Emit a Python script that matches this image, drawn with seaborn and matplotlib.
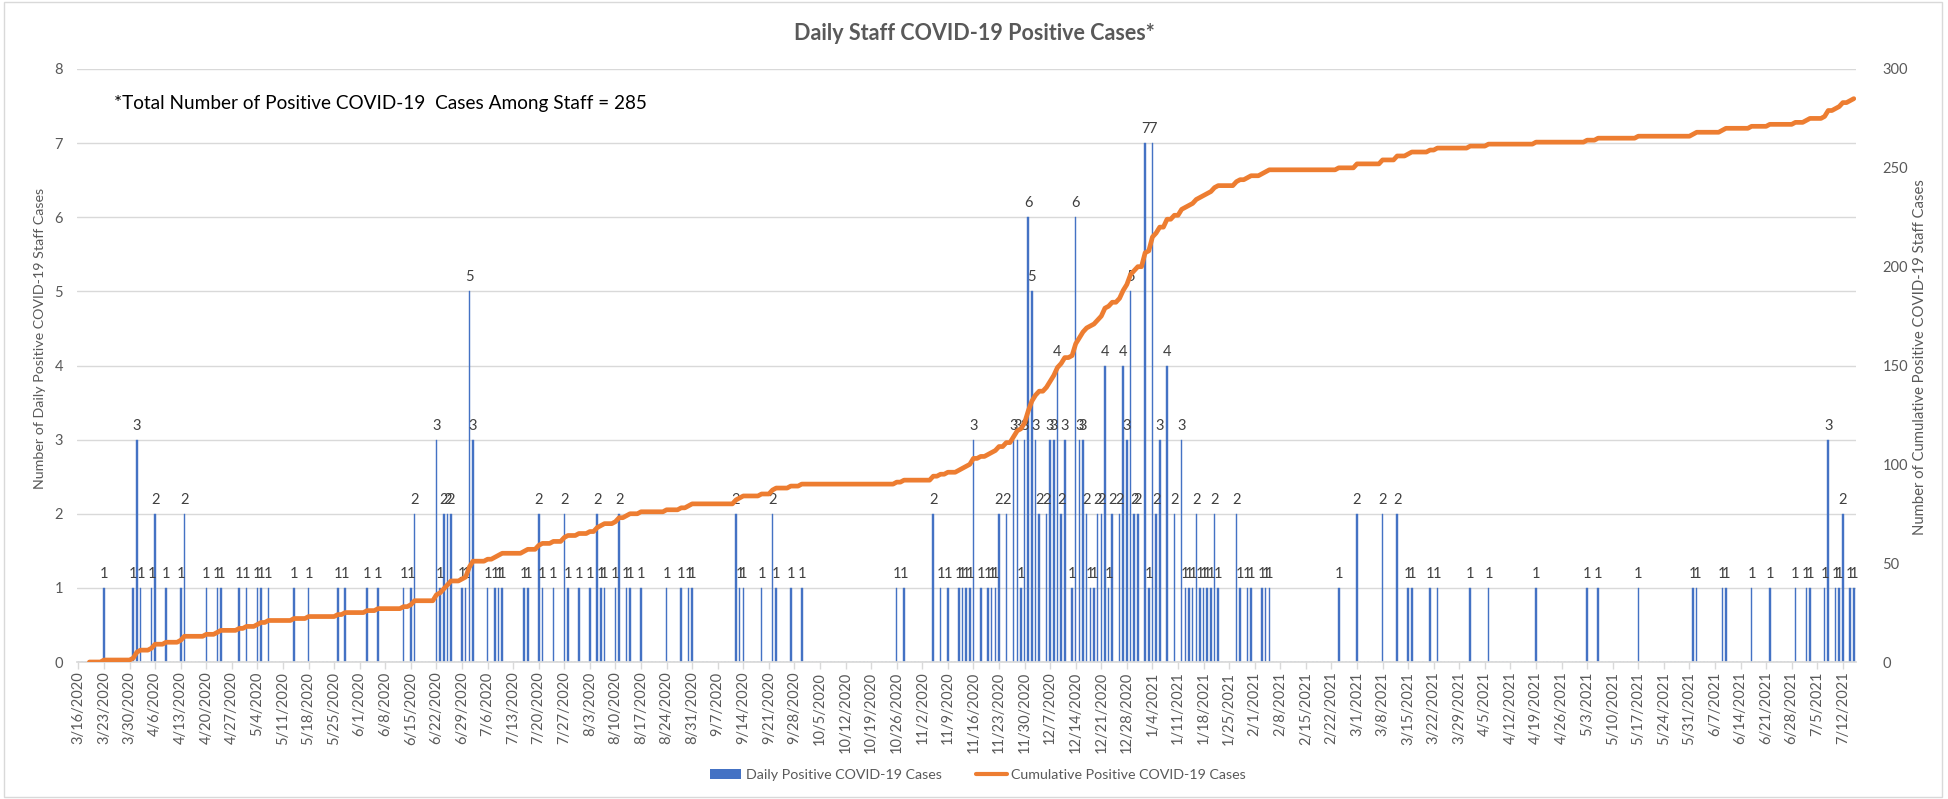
import numpy as np
import pandas as pd
import matplotlib
matplotlib.use('Agg')
import matplotlib.pyplot as plt
from matplotlib.patches import Patch, Rectangle
from matplotlib.lines import Line2D
import seaborn as sns

# days with at least one positive staff case
case_dates = [
    '3/23/2020', '3/31/2020', '4/1/2020', '4/2/2020', '4/5/2020', '4/6/2020', '4/9/2020',
    '4/13/2020', '4/14/2020', '4/20/2020', '4/23/2020', '4/24/2020', '4/29/2020', '5/1/2020',
    '5/4/2020', '5/5/2020', '5/7/2020', '5/14/2020', '5/18/2020', '5/26/2020', '5/28/2020',
    '6/3/2020', '6/6/2020', '6/13/2020', '6/15/2020', '6/16/2020', '6/22/2020', '6/23/2020',
    '6/24/2020', '6/25/2020', '6/26/2020', '6/29/2020', '6/30/2020', '7/1/2020', '7/2/2020',
    '7/6/2020', '7/8/2020', '7/9/2020', '7/10/2020', '7/16/2020', '7/17/2020', '7/20/2020',
    '7/21/2020', '7/24/2020', '7/27/2020', '7/28/2020', '7/31/2020', '8/3/2020', '8/5/2020',
    '8/6/2020', '8/7/2020', '8/10/2020', '8/11/2020', '8/13/2020', '8/14/2020', '8/17/2020',
    '8/24/2020', '8/28/2020', '8/30/2020', '8/31/2020', '9/12/2020', '9/13/2020', '9/14/2020',
    '9/19/2020', '9/22/2020', '9/23/2020', '9/27/2020', '9/30/2020', '10/26/2020', '10/28/2020',
    '11/5/2020', '11/7/2020', '11/9/2020', '11/12/2020', '11/13/2020', '11/14/2020', '11/15/2020',
    '11/16/2020', '11/18/2020', '11/20/2020', '11/21/2020', '11/22/2020', '11/23/2020',
    '11/25/2020', '11/27/2020', '11/28/2020', '11/29/2020', '11/30/2020', '12/1/2020',
    '12/2/2020', '12/3/2020', '12/4/2020', '12/6/2020', '12/7/2020', '12/8/2020', '12/9/2020',
    '12/10/2020', '12/11/2020', '12/13/2020', '12/14/2020', '12/15/2020', '12/16/2020',
    '12/17/2020', '12/18/2020', '12/19/2020', '12/20/2020', '12/21/2020', '12/22/2020',
    '12/23/2020', '12/24/2020', '12/26/2020', '12/27/2020', '12/28/2020', '12/29/2020',
    '12/30/2020', '12/31/2020', '1/2/2021', '1/3/2021', '1/4/2021', '1/5/2021', '1/6/2021',
    '1/8/2021', '1/10/2021', '1/12/2021', '1/13/2021', '1/14/2021', '1/15/2021', '1/16/2021',
    '1/17/2021', '1/18/2021', '1/19/2021', '1/20/2021', '1/21/2021', '1/22/2021', '1/27/2021',
    '1/28/2021', '1/30/2021', '1/31/2021', '2/3/2021', '2/4/2021', '2/5/2021', '2/24/2021',
    '3/1/2021', '3/8/2021', '3/12/2021', '3/15/2021', '3/16/2021', '3/21/2021', '3/23/2021',
    '4/1/2021', '4/6/2021', '4/19/2021', '5/3/2021', '5/6/2021', '5/17/2021', '6/1/2021',
    '6/2/2021', '6/9/2021', '6/10/2021', '6/17/2021', '6/22/2021', '6/29/2021', '7/2/2021',
    '7/3/2021', '7/7/2021', '7/8/2021', '7/10/2021', '7/11/2021', '7/12/2021', '7/14/2021',
    '7/15/2021',
]
case_counts = [
    1, 1, 3, 1, 1, 2, 1,
    1, 2, 1, 1, 1, 1, 1,
    1, 1, 1, 1, 1, 1, 1,
    1, 1, 1, 1, 2, 3, 1,
    2, 2, 2, 1, 1, 5, 3,
    1, 1, 1, 1, 1, 1, 2,
    1, 1, 2, 1, 1, 1, 2,
    1, 1, 1, 2, 1, 1, 1,
    1, 1, 1, 1, 2, 1, 1,
    1, 2, 1, 1, 1, 1, 1,
    2, 1, 1, 1, 1, 1, 1,
    3, 1, 1, 1, 1, 2,
    2, 3, 3, 1, 3, 6,
    5, 3, 2, 2, 3, 3, 4,
    2, 3, 1, 6, 3, 3,
    2, 1, 1, 2, 2, 4,
    1, 2, 2, 4, 3, 5,
    2, 2, 7, 1, 7, 2, 3,
    4, 2, 3, 1, 1, 1, 2,
    1, 1, 1, 1, 2, 1, 2,
    1, 1, 1, 1, 1, 1, 1,
    2, 2, 2, 1, 1, 1, 1,
    1, 1, 1, 1, 1, 1, 1,
    1, 1, 1, 1, 1, 1, 1,
    1, 1, 3, 1, 1, 2, 1,
    1,
]
first_day = '3/16/2020'
last_day = '7/15/2021'
line_start = '3/19/2020'

days = pd.date_range(pd.to_datetime(first_day), pd.to_datetime(last_day), freq='D')
daily = pd.Series(0, index=days)
daily[pd.to_datetime(case_dates, format='%m/%d/%Y')] = case_counts
df = pd.DataFrame({'day': np.arange(len(days)), 'cases': daily.values})
df['cumulative'] = df['cases'].cumsum()
start_idx = (pd.to_datetime(line_start) - days[0]).days
line_df = df[df['day'] >= start_idx]

sns.set_theme(style='white')
plt.rcParams['font.family'] = ['Lato', 'DejaVu Sans']

fig = plt.figure(figsize=(19.48, 7.99), dpi=100)
ax = fig.add_axes([77 / 1948, 137 / 799, 1779 / 1948, 593 / 799])

sns.barplot(data=df, x='day', y='cases', native_scale=True, color='#4472C4',
            saturation=1, width=0.42, edgecolor='#4472C4', linewidth=0.3, ax=ax)
ax.bar_label(ax.containers[0], labels=[str(v) if v else '' for v in df['cases']],
             padding=5, fontsize=10.5, color='#404040')

ax.set_ylim(0, 8)
ax.set_yticks(range(0, 9))
ax.set_xlim(-0.4, len(days) - 0.4)
tick_pos = np.arange(0, len(days), 7)
ax.set_xticks(tick_pos)
ax.set_xticklabels([f'{d.month}/{d.day}/{d.year}' for d in days[tick_pos]], rotation=90)
ax.yaxis.grid(True, color='#D9D9D9', linewidth=1)
ax.set_axisbelow(True)
for s in ['top', 'right', 'left']:
    ax.spines[s].set_visible(False)
ax.spines['bottom'].set_color('#D9D9D9')
ax.tick_params(axis='x', colors='#D9D9D9', labelcolor='#595959', labelsize=10.5,
               length=5, width=1, pad=2, direction='out', bottom=True)
ax.tick_params(axis='y', labelcolor='#595959', labelsize=10.5, length=0, pad=10)
ax.set_xlabel('')
ax.set_ylabel('')

ax2 = ax.twinx()
sns.lineplot(data=line_df, x='day', y='cumulative', color='#ED7D31', linewidth=3.4, ax=ax2)
ax2.set_ylim(0, 300)
ax2.set_yticks(range(0, 301, 50))
ax2.grid(False)
for s in ax2.spines.values():
    s.set_visible(False)
ax2.tick_params(axis='y', labelcolor='#595959', labelsize=10.5, length=0, pad=19)
ax2.set_ylabel('')
ax2.set_xlabel('')

fig.text(974 / 1948, 1 - 34 / 799, 'Daily Staff COVID-19 Positive Cases*', ha='center',
         va='center', fontsize=15.5, fontweight='bold', color='#595959')
fig.text(114 / 1948, 1 - 103 / 799, '*Total Number of Positive COVID-19  Cases Among Staff = 285',
         ha='left', va='center', fontsize=13.7, color='black')
fig.text(40 / 1948, 1 - 338 / 799, 'Number of Daily Positive COVID-19 Staff Cases',
         rotation=90, ha='center', va='center', fontsize=10.3, color='#595959')
fig.text(1920 / 1948, 1 - 357 / 799, 'Number of Cumulative Positive COVID-19 Staff Cases',
         rotation=90, ha='center', va='center', fontsize=10.7, color='#595959')

handles = [Patch(facecolor='#4472C4', edgecolor='none'),
           Line2D([0], [0], color='#ED7D31', linewidth=3)]
fig.legend(handles, ['Daily Positive COVID-19 Cases', 'Cumulative Positive COVID-19 Cases'],
           loc='center', bbox_to_anchor=(978 / 1948, 1 - 775 / 799), ncol=2, frameon=False,
           fontsize=10.3, handlelength=2.2, handletextpad=0.3, columnspacing=2.4,
           labelcolor='#595959')

fig.patches.append(Rectangle((0.002, 0.003), 0.995, 0.994, transform=fig.transFigure,
                             fill=False, edgecolor='#D9D9D9', linewidth=1))

fig.savefig('out.png', dpi=100)
